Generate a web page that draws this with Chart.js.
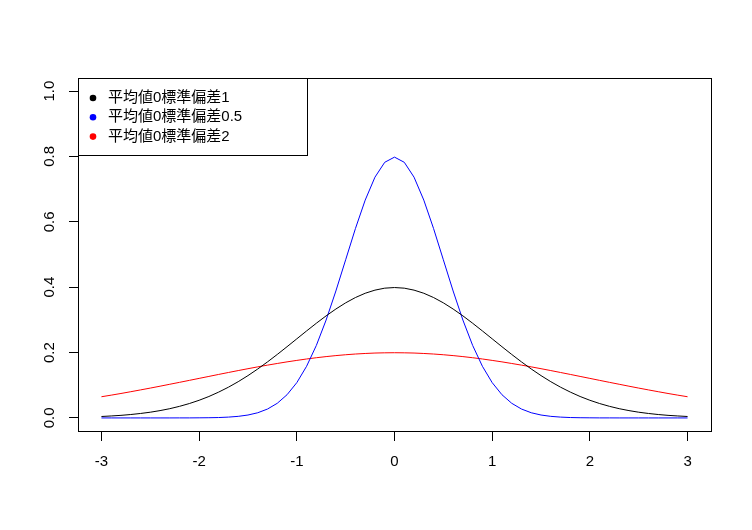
<!DOCTYPE html>
<html>
<head>
<meta charset="utf-8">
<script src="https://cdn.jsdelivr.net/npm/chart.js@4/dist/chart.umd.min.js"></script>
<style>
  body { margin: 0; background: #fff; }
  #wrap { width: 752px; height: 530px; }
</style>
</head>
<body>
<div id="wrap"><canvas id="densityChart" width="752" height="530"></canvas></div>
<script>
// x values, step 0.1 from -3 to 3
const xs = [-3.0, -2.9, -2.8, -2.7, -2.6, -2.5, -2.4, -2.3, -2.2, -2.1,
            -2.0, -1.9, -1.8, -1.7, -1.6, -1.5, -1.4, -1.3, -1.2, -1.1,
            -1.0, -0.9, -0.8, -0.7, -0.6, -0.5, -0.4, -0.3, -0.2, -0.1,
             0.0,  0.1,  0.2,  0.3,  0.4,  0.5,  0.6,  0.7,  0.8,  0.9,
             1.0,  1.1,  1.2,  1.3,  1.4,  1.5,  1.6,  1.7,  1.8,  1.9,
             2.0,  2.1,  2.2,  2.3,  2.4,  2.5,  2.6,  2.7,  2.8,  2.9, 3.0]

const sd1 = [0.0044, 0.0060, 0.0079, 0.0104, 0.0136, 0.0175, 0.0224, 0.0283, 0.0355, 0.0440,
             0.0540, 0.0656, 0.0790, 0.0940, 0.1109, 0.1295, 0.1497, 0.1714, 0.1942, 0.2179,
             0.2420, 0.2661, 0.2897, 0.3123, 0.3332, 0.3521, 0.3683, 0.3814, 0.3910, 0.3970,
             0.3989, 0.3970, 0.3910, 0.3814, 0.3683, 0.3521, 0.3332, 0.3123, 0.2897, 0.2661,
             0.2420, 0.2179, 0.1942, 0.1714, 0.1497, 0.1295, 0.1109, 0.0940, 0.0790, 0.0656,
             0.0540, 0.0440, 0.0355, 0.0283, 0.0224, 0.0175, 0.0136, 0.0104, 0.0079, 0.0060, 0.0044]

const sd05 = [0.0000, 0.0000, 0.0000, 0.0000, 0.0000, 0.0000, 0.0000, 0.0000, 0.0001, 0.0001,
              0.0003, 0.0006, 0.0012, 0.0025, 0.0048, 0.0089, 0.0158, 0.0272, 0.0448, 0.0710,
              0.1080, 0.1580, 0.2218, 0.2995, 0.3884, 0.4839, 0.5794, 0.6664, 0.7366, 0.7821,
              0.7979, 0.7821, 0.7366, 0.6664, 0.5794, 0.4839, 0.3884, 0.2995, 0.2218, 0.1580,
              0.1080, 0.0710, 0.0448, 0.0272, 0.0158, 0.0089, 0.0048, 0.0025, 0.0012, 0.0006,
              0.0003, 0.0001, 0.0001, 0.0000, 0.0000, 0.0000, 0.0000, 0.0000, 0.0000, 0.0000, 0.0000]

const sd2 = [0.0648, 0.0697, 0.0748, 0.0802, 0.0857, 0.0913, 0.0971, 0.1030, 0.1089, 0.1149,
             0.1210, 0.1270, 0.1331, 0.1390, 0.1449, 0.1506, 0.1562, 0.1615, 0.1666, 0.1715,
             0.1760, 0.1803, 0.1842, 0.1876, 0.1907, 0.1933, 0.1955, 0.1972, 0.1985, 0.1992,
             0.1995, 0.1992, 0.1985, 0.1972, 0.1955, 0.1933, 0.1907, 0.1876, 0.1842, 0.1803,
             0.1760, 0.1715, 0.1666, 0.1615, 0.1562, 0.1506, 0.1449, 0.1390, 0.1331, 0.1270,
             0.1210, 0.1149, 0.1089, 0.1030, 0.0971, 0.0913, 0.0857, 0.0802, 0.0748, 0.0697, 0.0648]

const seriesLabels = ['平均値0標準偏差1', '平均値0標準偏差0.5', '平均値0標準偏差2']
const seriesColors = ['#000000', '#0000ff', '#ff0000']

const xTicks = [-3, -2, -1, 0, 1, 2, 3]
const yTicks = [0, 0.2, 0.4, 0.6, 0.8, 1.0]
const yTickLabels = ['0.0', '0.2', '0.4', '0.6', '0.8', '1.0']

const tickFont = '15px "Liberation Sans", Arial, sans-serif'
const legendFont = '15px "Liberation Sans", "Noto Sans CJK JP", sans-serif'

const toPoints = (ys) => xs.map((x, i) => ({ x: x, y: ys[i] }))

const makeDataset = (ys, i) => ({
    label: seriesLabels[i],
    data: toPoints(ys),
    borderColor: seriesColors[i],
    backgroundColor: seriesColors[i],
    borderWidth: 1,
    pointRadius: 0,
    tension: 0,
    fill: false
})

// box, rotated y labels and the legend, drawn the R way
const rStyle = {
    id: 'rStyle',
    afterDraw(chart) {
        const ctx = chart.ctx
        const area = chart.chartArea
        const yScale = chart.scales.y
        ctx.save()

        ctx.strokeStyle = '#000'
        ctx.lineWidth = 1
        ctx.strokeRect(area.left + 0.5, area.top + 0.5, area.right - area.left, area.bottom - area.top)

        ctx.fillStyle = '#000'
        ctx.font = tickFont
        ctx.textAlign = 'center'
        ctx.textBaseline = 'middle'
        yTicks.forEach((v, i) => {
            const py = yScale.getPixelForValue(v)
            ctx.save()
            ctx.translate(50, py)
            ctx.rotate(-Math.PI / 2)
            ctx.fillText(yTickLabels[i], 0, 0)
            ctx.restore()
        })

        // legend
        const lx = area.left, ly = area.top
        ctx.fillStyle = '#fff'
        ctx.fillRect(lx + 0.5, ly + 0.5, 229, 77)
        ctx.strokeRect(lx + 0.5, ly + 0.5, 229, 77)
        ctx.font = legendFont
        ctx.textAlign = 'left'
        seriesLabels.forEach((lab, i) => {
            const rowY = ly + 20 + i * 19.3
            ctx.fillStyle = seriesColors[i]
            ctx.beginPath()
            ctx.arc(lx + 15, rowY, 3.3, 0, Math.PI * 2)
            ctx.fill()
            ctx.fillStyle = '#000'
            ctx.fillText(lab, lx + 30, rowY)
        })
        ctx.restore()
    }
}

const ctx = document.getElementById('densityChart')
const densityChart = new Chart(ctx, {
    type: 'line',
    data: {
        datasets: [makeDataset(sd1, 0), makeDataset(sd05, 1), makeDataset(sd2, 2)]
    },
    options: {
        responsive: false,
        animation: false,
        layout: { padding: { top: 78, right: 41, left: 0, bottom: 0 } },
        plugins: {
            legend: { display: false },
            tooltip: { enabled: false }
        },
        scales: {
            x: {
                type: 'linear',
                min: -3.24,
                max: 3.24,
                afterBuildTicks: (axis) => { axis.ticks = xTicks.map(v => ({ value: v })) },
                afterFit: (axis) => { axis.height = 99 },
                border: { display: false },
                grid: { drawOnChartArea: false, drawTicks: true, tickLength: 10, color: '#000', tickColor: '#000' },
                ticks: {
                    color: '#000',
                    font: { family: '"Liberation Sans", Arial, sans-serif', size: 15 },
                    padding: 12,
                    maxRotation: 0,
                    callback: (v) => String(v)
                }
            },
            y: {
                type: 'linear',
                min: -0.04,
                max: 1.04,
                afterBuildTicks: (axis) => { axis.ticks = yTicks.map(v => ({ value: v })) },
                afterFit: (axis) => { axis.width = 78 },
                border: { display: false },
                grid: { drawOnChartArea: false, drawTicks: true, tickLength: 9, color: '#000', tickColor: '#000' },
                ticks: { display: false }
            }
        }
    },
    plugins: [rStyle]
})
</script>
</body>
</html>
